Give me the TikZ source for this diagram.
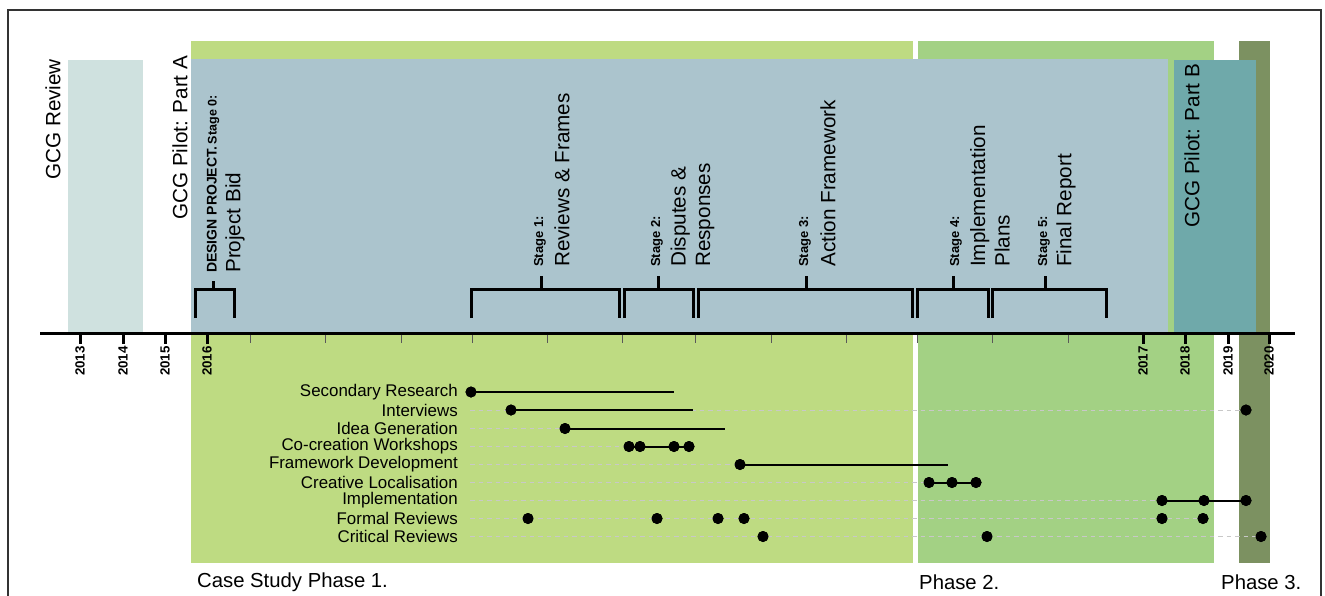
\documentclass[tikz,border=0pt]{standalone}
\usepackage{fontspec}
\setmainfont{Liberation Sans}
\definecolor{reviewc}{HTML}{CFE1DF}
\definecolor{phaseA}{HTML}{BEDB82}
\definecolor{phaseB}{HTML}{A3D184}
\definecolor{phaseC}{HTML}{7C9161}
\definecolor{pilotA}{HTML}{ABC4CD}
\definecolor{pilotB}{HTML}{6FA9AA}
\definecolor{framec}{HTML}{333333}
\definecolor{guidec}{HTML}{C8C8C8}
\begin{document}
\begin{tikzpicture}[x=1pt,y=-1pt,
  bigtxt/.style={font=\fontsize{20.7}{24.5}\selectfont, inner sep=0pt, rotate=90, anchor=west, align=left},
  stg/.style={font=\bfseries\fontsize{13}{15}\selectfont, inner sep=0pt, rotate=90, anchor=west},
  yr/.style={font=\bfseries\fontsize{13.3}{15}\selectfont, inner sep=0pt, rotate=90, anchor=east},
  act/.style={font=\fontsize{16.9}{18}\selectfont, inner sep=0pt, anchor=east},
  phaselbl/.style={font=\fontsize{20.3}{24}\selectfont, inner sep=0pt, anchor=west},
  dot/.style={circle, fill=black, inner sep=0pt, minimum size=11pt},
  guide/.style={draw=guidec, line width=1pt, dash pattern=on 4.5pt off 4pt},
  link/.style={line width=2pt},
  brk/.style={line width=3pt},
  majtick/.style={line width=3pt},
  mintick/.style={line width=0.9pt, draw=black!65}
]
\useasboundingbox (0,0) rectangle (1325,595);
% frame
\draw[framec, line width=2pt] (8,600) -- (8,10) -- (1321,10) -- (1321,600);
% background regions
\fill[reviewc] (68,60) rectangle (143,333);
\fill[phaseA] (191,41) rectangle (913,563);
\fill[phaseB] (918,41) rectangle (1214,563);
\fill[phaseC] (1239,41) rectangle (1270,563);
\fill[pilotA] (191,59) rectangle (1168,333);
\fill[pilotB] (1174,60) rectangle (1256,333);

% rows
\def\ya{392}\def\yb{410}\def\yc{428.5}\def\yd{446.5}\def\ye{464.5}
\def\yf{482.5}\def\yg{500.5}\def\yh{518.5}\def\yi{536.5}

% activity labels
\node[act] (la) at (458,\ya) {Secondary Research};
\node[act] (lb) at (458,\yb) {Interviews};
\node[act] (lc) at (458,\yc) {Idea Generation};
\node[act] (ld) at (458,\yd) {Co-creation Workshops};
\node[act] (le) at (458,\ye) {Framework Development};
\node[act] (lf) at (458,\yf) {Creative Localisation};
\node[act] (lg) at (458,\yg) {Implementation};
\node[act] (lh) at (458,\yh) {Formal Reviews};
\node[act] (li) at (458,\yi) {Critical Reviews};

% dots
\node[dot] (a1) at (471,\ya) {};
\coordinate (a2) at (674,\ya);
\node[dot] (b1) at (511,\yb) {};
\coordinate (b2) at (693,\yb);
\node[dot] (b3) at (1246,\yb) {};
\node[dot] (c1) at (565,\yc) {};
\coordinate (c2) at (725,\yc);
\node[dot] (d1) at (629,\yd) {};
\node[dot] (d2) at (640,\yd) {};
\node[dot] (d3) at (674,\yd) {};
\node[dot] (d4) at (689,\yd) {};
\node[dot] (e1) at (740,\ye) {};
\coordinate (e2) at (948,\ye);
\node[dot] (f1) at (929,\yf) {};
\node[dot] (f2) at (952,\yf) {};
\node[dot] (f3) at (976,\yf) {};
\node[dot] (g1) at (1162,\yg) {};
\node[dot] (g2) at (1204,\yg) {};
\node[dot] (g3) at (1246,\yg) {};
\node[dot] (h1) at (528,\yh) {};
\node[dot] (h2) at (657,\yh) {};
\node[dot] (h3) at (718,\yh) {};
\node[dot] (h4) at (744,\yh) {};
\node[dot] (h5) at (1162,\yh) {};
\node[dot] (h6) at (1203,\yh) {};
\node[dot] (i1) at (763,\yi) {};
\node[dot] (i2) at (987,\yi) {};
\node[dot] (i3) at (1261,\yi) {};

% guide start coordinates
\coordinate (gb) at (470,\yb);
\coordinate (gc) at (470,\yc);
\coordinate (gd) at (470,\yd);
\coordinate (ge) at (470,\ye);
\coordinate (gf) at (470,\yf);
\coordinate (gg) at (470,\yg);
\coordinate (gh) at (470,\yh);
\coordinate (gi) at (470,\yi);

\draw[guide] (gb) -- (b3.center);
\draw[guide] (gc) -- (c1.center);
\draw[guide] (gd) -- (d1.center);
\draw[guide] (ge) -- (e1.center);
\draw[guide] (gf) -- (f1.center);
\draw[guide] (gg) -- (g1.center);
\draw[guide] (gh) -- (h6.center);
\draw[guide] (gi) -- (i3.center);

% solid links
\draw[link] (a1.center) -- (a2);
\draw[link] (b1.center) -- (b2);
\draw[link] (c1.center) -- (c2);
\draw[link] (d1.center) -- (d4.center);
\draw[link] (e1.center) -- (e2);
\draw[link] (f1.center) -- (f3.center);
\draw[link] (g1.center) -- (g3.center);

% redraw dots on top
\foreach \n in {a1,b1,b3,c1,d1,d2,d3,d4,e1,f1,f2,f3,g1,g2,g3,h1,h2,h3,h4,h5,h6,i1,i2,i3}
  \fill (\n.center) circle (5.5pt);

% axis
\draw[line width=3pt] (40,333) -- (1295,333);
\foreach \x in {80,123,165,207,1143,1185,1228,1269}
  \draw[majtick] (\x,333) -- (\x,344);
\foreach \x in {250,325,401,472,547,622,695,771,846,917,992,1068}
  \draw[mintick] (\x,334.5) -- (\x,343);
\node[yr] (y13) at (80,346) {2013};
\node[yr] (y14) at (123,346) {2014};
\node[yr] (y15) at (165,346) {2015};
\node[yr] (y16) at (207,346) {2016};
\node[yr] (y17) at (1143,346) {2017};
\node[yr] (y18) at (1185,346) {2018};
\node[yr] (y19) at (1228,346) {2019};
\node[yr] (y20) at (1269,346) {2020};

% brackets
\draw[brk] (195,318) -- (195,289) -- (234,289) -- (234,318) (213,289) -- (213,281);
\draw[brk] (471,318) -- (471,289) -- (619,289) -- (619,318) (541,289) -- (541,276);
\draw[brk] (624,318) -- (624,289) -- (693,289) -- (693,318) (658,289) -- (658,276);
\draw[brk] (698,318) -- (698,289) -- (912,289) -- (912,318) (806,289) -- (806,276);
\draw[brk] (917,318) -- (917,289) -- (988,289) -- (988,318) (953,289) -- (953,276);
\draw[brk] (992,318) -- (992,289) -- (1106,289) -- (1106,318) (1045,289) -- (1045,276);

% big labels
\node[bigtxt] (tReview) at (53,180) {GCG Review};
\node[bigtxt] (tPilotA) at (180,220) {GCG Pilot: Part A};
\node[bigtxt] (tPilotB) at (1192,228) {GCG Pilot: Part B};

\node[stg, font=\bfseries] (s0) at (213,273) {{\fontsize{14}{16}\selectfont DESIGN PROJECT.} {\fontsize{12.5}{15}\selectfont Stage 0:}};
\node[bigtxt] (t0) at (235,273) {Project Bid};
\node[stg] (s1) at (540,267) {Stage 1:};
\node[bigtxt] (t1) at (562,267) {Reviews \& Frames};
\node[stg] (s2) at (657,267) {Stage 2:};
\node[bigtxt] (t2) at (692.5,267) {Disputes \&\\Responses};
\node[stg] (s3) at (805,267) {Stage 3:};
\node[bigtxt] (t3) at (828,267) {Action Framework};
\node[stg] (s4) at (956,267) {Stage 4:};
\node[bigtxt] (t4) at (990,267) {Implementation\\Plans};
\node[stg] (s5) at (1044,267) {Stage 5:};
\node[bigtxt] (t5) at (1066,267) {Final Report};

% phase labels
\node[phaselbl] (p1) at (197,582) {Case Study Phase 1.};
\node[phaselbl] (p2) at (919,582) {Phase 2.};
\node[phaselbl] (p3) at (1221,582) {Phase 3.};
\end{tikzpicture}
\end{document}
